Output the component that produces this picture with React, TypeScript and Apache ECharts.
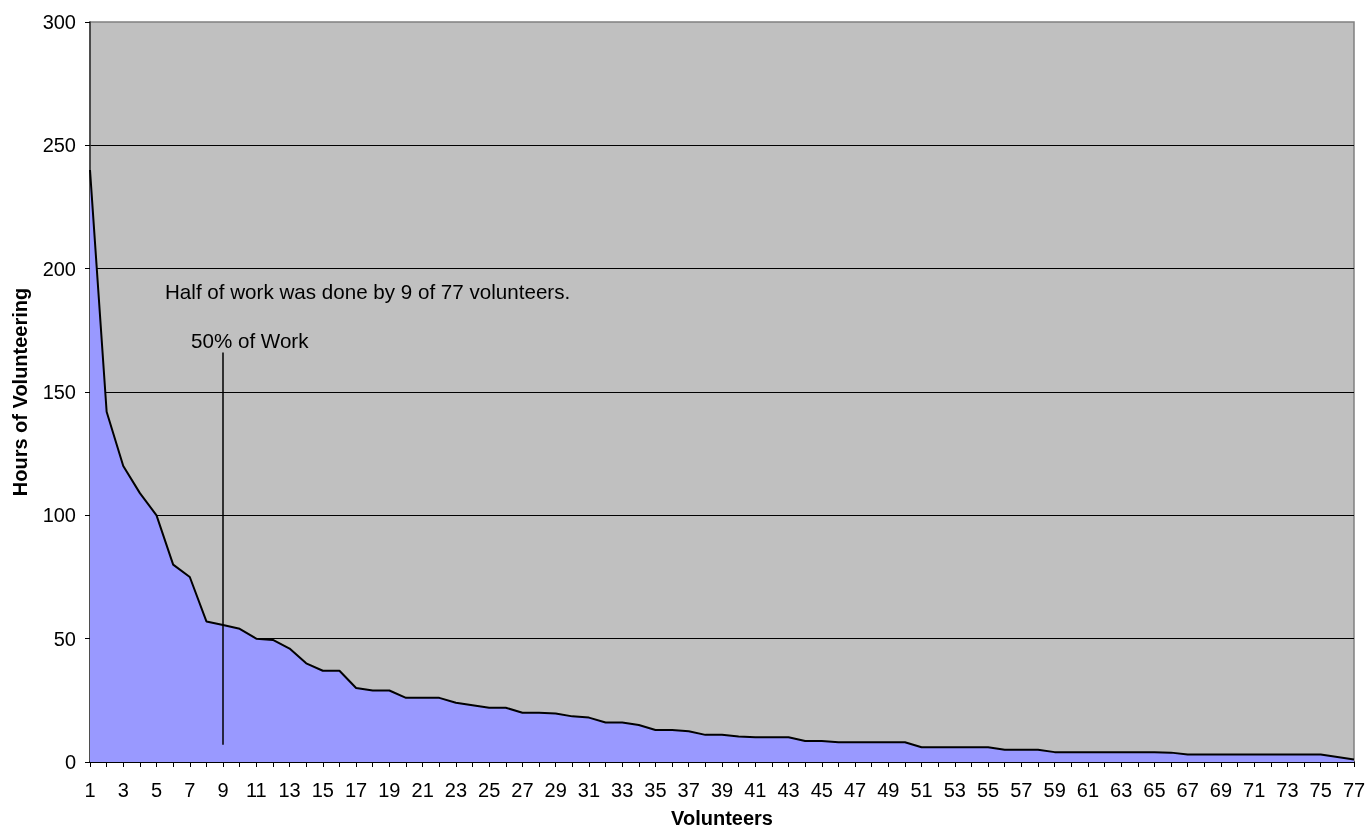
import React, { useEffect, useRef } from "react";
import * as echarts from "echarts";

const volunteers: string[] = Array.from({ length: 77 }, (_, i) => String(i + 1));
const hours: number[] = [
  240, 142, 120, 109, 100, 80, 75, 57, 55.5, 54,
  50, 49.5, 46, 40, 37, 37, 30, 29, 29, 26,
  26, 26, 24, 23, 22, 22, 20, 20, 19.7, 18.5,
  18, 16, 16, 15, 13, 13, 12.5, 11, 11, 10.3,
  10, 10, 10, 8.5, 8.5, 8, 8, 8, 8, 8,
  6, 6, 6, 6, 6, 5, 5, 5, 4, 4,
  4, 4, 4, 4, 4, 3.8, 3, 3, 3, 3,
  3, 3, 3, 3, 3, 2, 1,
];
const yTicks = { min: 0, max: 300, interval: 50 };
const markerCategory = "9";
const markerRange: [number, number] = [166, 7];
const noteMain = "Half of work was done by 9 of 77 volunteers.";
const noteMarker = "50% of Work";

const FONT = "'Liberation Sans', Arial, sans-serif";
const FS = 20;
const NOTE_FS = 20.6;

export default function App() {
  const ref = useRef<HTMLDivElement>(null);
  useEffect(() => {
    if (!ref.current) return;
    const chart = echarts.init(ref.current, null, { renderer: "svg" });
    chart.setOption({
      animation: false,
      textStyle: { fontFamily: FONT },
      grid: {
        left: 90,
        right: 14,
        top: 22,
        bottom: 75,
        outerBoundsMode: "none",
        containLabel: false,
        show: true,
        backgroundColor: "#C0C0C0",
        borderColor: "#808080",
        borderWidth: 1.5,
      },
      xAxis: {
        type: "category",
        data: volunteers,
        boundaryGap: false,
        name: "Volunteers",
        nameLocation: "middle",
        nameGap: 46,
        nameTextStyle: { fontFamily: FONT, fontSize: FS, fontWeight: "bold", color: "#000" },
        axisLine: { show: true, lineStyle: { color: "#000", width: 1.5 } },
        axisTick: { show: true, interval: 0, length: 5, lineStyle: { color: "#000" } },
        axisLabel: { interval: 1, margin: 18, fontFamily: FONT, fontSize: FS, color: "#000", hideOverlap: false },
        splitLine: { show: false },
      },
      yAxis: {
        type: "value",
        min: yTicks.min,
        max: yTicks.max,
        interval: yTicks.interval,
        name: "Hours of Volunteering",
        nameLocation: "middle",
        nameGap: 60,
        nameTextStyle: { fontFamily: FONT, fontSize: FS, fontWeight: "bold", color: "#000" },
        axisLine: { show: true, lineStyle: { color: "#333", width: 1.5 } },
        axisTick: { show: true, length: 5, lineStyle: { color: "#000" } },
        axisLabel: { margin: 14, fontFamily: FONT, fontSize: FS, color: "#000" },
        splitLine: { show: true, showMaxLine: false, lineStyle: { color: "#000", width: 1 } },
      },
      series: [
        {
          type: "line",
          data: hours,
          symbol: "none",
          lineStyle: { color: "#000", width: 2 },
          areaStyle: { color: "#9999FF", opacity: 1 },
          z: 2,
          markLine: {
            silent: true,
            symbol: ["none", "none"],
            lineStyle: { color: "#000", width: 1.5, type: "solid" },
            label: { show: false },
            data: [
              [
                { coord: [markerCategory, markerRange[0]] },
                { coord: [markerCategory, markerRange[1]] },
              ],
            ],
          },
        },
      ],
      graphic: [
        {
          type: "text",
          left: 165,
          top: 281,
          style: { text: noteMain, fontFamily: FONT, fontSize: NOTE_FS, fill: "#000" },
          z: 10,
        },
        {
          type: "text",
          left: 191,
          top: 330,
          style: { text: noteMarker, fontFamily: FONT, fontSize: NOTE_FS, fill: "#000" },
          z: 10,
        },
      ],
    });
    return () => chart.dispose();
  }, []);
  return (
    <div
      ref={ref}
      style={{ position: "fixed", left: 0, top: 0, width: 1368, height: 837 }}
    />
  );
}
